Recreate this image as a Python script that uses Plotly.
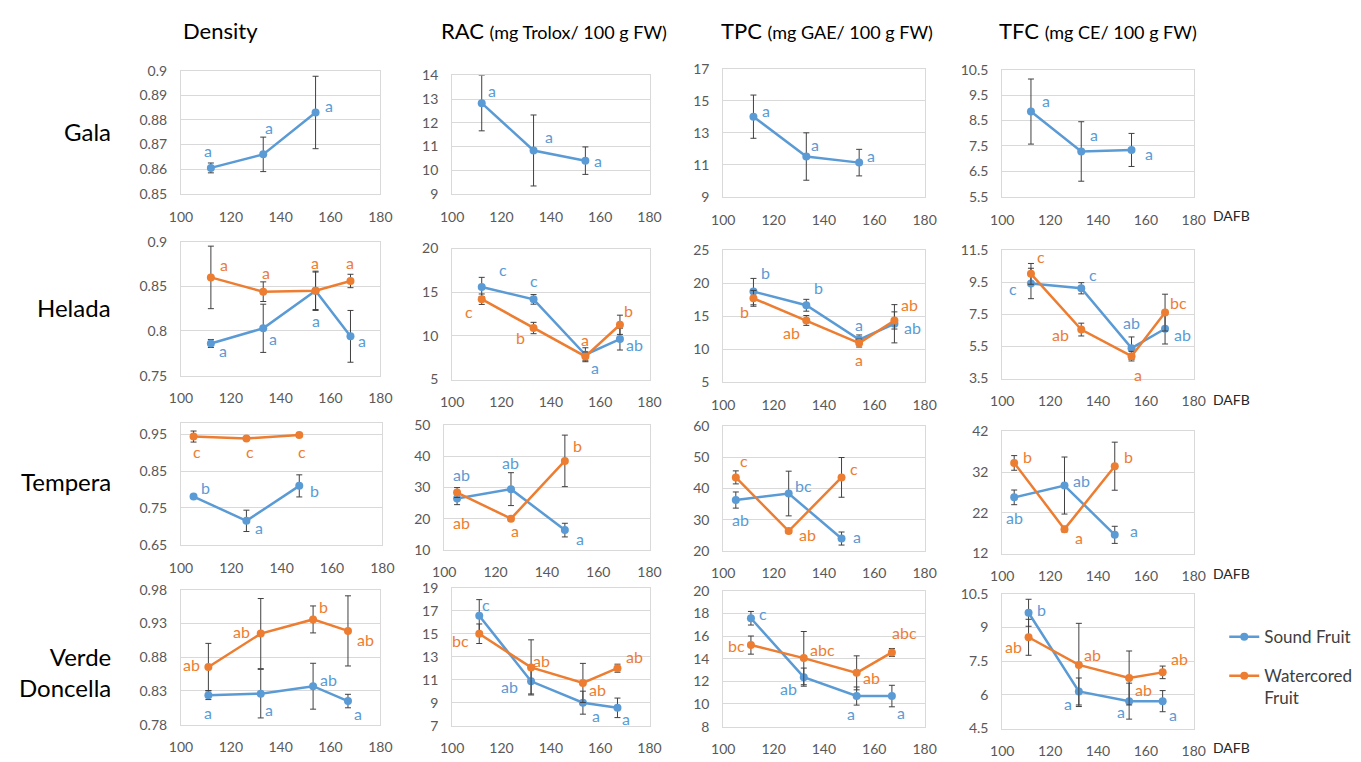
import plotly.graph_objects as go

W, H = 1361, 762
BLUE = "#5B9BD5"
ORANGE = "#ED7D31"
FONT = "Lato"

# ---------------- data ----------------
varieties = ["Gala", "Helada", "Tempera", "Verde<br>Doncella"]
series_names = ["Sound Fruit", "Watercored<br>Fruit"]

gala_days = [112, 133, 154]
helada_days = [112, 133, 154, 168]
tempera_days = [105, 126, 147]
verde_days = [111, 132, 153, 167]

# Gala (sound fruit only)
gala_density_sound = [0.8605, 0.866, 0.883]
gala_density_sound_err = [0.002, 0.007, 0.0147]
gala_density_sound_lab = ["a", "a", "a"]
gala_rac_sound = [12.83, 10.83, 10.40]
gala_rac_sound_err = [1.17, 1.5, 0.58]
gala_rac_sound_lab = ["a", "a", "a"]
gala_tpc_sound = [14.0, 11.51, 11.13]
gala_tpc_sound_err = [1.35, 1.48, 0.83]
gala_tpc_sound_lab = ["a", "a", "a"]
gala_tfc_sound = [8.85, 7.28, 7.34]
gala_tfc_sound_err = [1.28, 1.17, 0.65]
gala_tfc_sound_lab = ["a", "a", "a"]

# Helada
helada_density_sound = [0.786, 0.803, 0.845, 0.794]
helada_density_sound_err = [0.0045, 0.027, 0.022, 0.029]
helada_density_sound_lab = ["a", "a", "a", "a"]
helada_density_water = [0.860, 0.844, 0.845, 0.856]
helada_density_water_err = [0.035, 0.011, 0.021, 0.0075]
helada_density_water_lab = ["a", "a", "a", "a"]
helada_rac_sound = [15.6, 14.18, 7.84, 9.63]
helada_rac_sound_err = [1.1, 0.55, 0.8, 1.25]
helada_rac_sound_lab = ["c", "c", "a", "ab"]
helada_rac_water = [14.2, 10.9, 7.65, 11.27]
helada_rac_water_err = [0.6, 0.65, 0.5, 1.1]
helada_rac_water_lab = ["c", "b", "a", "b"]
helada_tpc_sound = [18.77, 16.7, 11.5, 13.9]
helada_tpc_sound_err = [2.0, 0.9, 0.7, 2.9]
helada_tpc_sound_lab = ["b", "b", "a", "ab"]
helada_tpc_water = [17.75, 14.4, 10.97, 14.4]
helada_tpc_water_err = [1.2, 0.75, 0.6, 1.3]
helada_tpc_water_lab = ["b", "ab", "a", "ab"]
helada_tfc_sound = [9.44, 9.14, 5.4, 6.61]
helada_tfc_sound_err = [0.95, 0.35, 0.7, 0.95]
helada_tfc_sound_lab = ["c", "c", "ab", "ab"]
helada_tfc_water = [10.04, 6.56, 4.9, 7.62]
helada_tfc_water_err = [0.65, 0.4, 0.3, 1.15]
helada_tfc_water_lab = ["c", "ab", "a", "bc"]

# Tempera
tempera_density_sound = [0.781, 0.715, 0.81]
tempera_density_sound_err = [0.005, 0.029, 0.03]
tempera_density_sound_lab = ["b", "a", "b"]
tempera_density_water = [0.944, 0.939, 0.948]
tempera_density_water_err = [0.015, 0.005, 0.005]
tempera_density_water_lab = ["c", "c", "c"]
tempera_rac_sound = [26.5, 29.5, 16.3]
tempera_rac_sound_err = [2.0, 5.3, 2.2]
tempera_rac_sound_lab = ["ab", "ab", "a"]
tempera_rac_water = [28.4, 20.0, 38.6]
tempera_rac_water_err = [1.6, 0.5, 8.3]
tempera_rac_water_lab = ["ab", "a", "b"]
tempera_tpc_sound = [36.3, 38.4, 23.9]
tempera_tpc_sound_err = [2.6, 7.2, 2.1]
tempera_tpc_sound_lab = ["ab", "bc", "a"]
tempera_tpc_water = [43.6, 26.3, 43.6]
tempera_tpc_water_err = [2.1, 0.7, 6.4]
tempera_tpc_water_lab = ["c", "ab", "c"]
tempera_tfc_sound = [25.8, 28.7, 16.6]
tempera_tfc_sound_err = [1.8, 7.0, 2.1]
tempera_tfc_sound_lab = ["ab", "ab", "a"]
tempera_tfc_water = [34.25, 18.0, 33.45]
tempera_tfc_water_err = [1.8, 0.7, 5.9]
tempera_tfc_water_lab = ["b", "a", "b"]

# Verde Doncella
verde_density_sound = [0.8237, 0.826, 0.837, 0.815]
verde_density_sound_err = [0.0065, 0.036, 0.034, 0.01]
verde_density_sound_lab = ["a", "a", "ab", "a"]
verde_density_water = [0.8655, 0.915, 0.936, 0.919]
verde_density_water_err = [0.035, 0.052, 0.02, 0.052]
verde_density_water_lab = ["ab", "ab", "b", "ab"]
verde_rac_sound = [16.57, 10.86, 9.0, 8.55]
verde_rac_sound_err = [1.4, 1.1, 1.0, 0.85]
verde_rac_sound_lab = ["c", "ab", "a", "a"]
verde_rac_water = [15.0, 12.07, 10.72, 12.0]
verde_rac_water_err = [0.85, 2.4, 1.7, 0.35]
verde_rac_water_lab = ["bc", "ab", "ab", "ab"]
verde_tpc_sound = [17.57, 12.37, 10.7, 10.7]
verde_tpc_sound_err = [0.6, 0.8, 0.8, 0.95]
verde_tpc_sound_lab = ["c", "ab", "a", "a"]
verde_tpc_water = [15.2, 14.05, 12.75, 14.55]
verde_tpc_water_err = [0.8, 2.35, 1.5, 0.35]
verde_tpc_water_lab = ["bc", "abc", "ab", "abc"]
verde_tfc_sound = [9.65, 6.15, 5.72, 5.72]
verde_tfc_sound_err = [0.6, 0.6, 0.8, 0.47]
verde_tfc_sound_lab = ["b", "a", "a", "a"]
verde_tfc_water = [8.56, 7.33, 6.75, 7.0]
verde_tfc_water_err = [0.8, 1.85, 1.2, 0.28]
verde_tfc_water_lab = ["ab", "ab", "ab", "ab"]

x_ticks = [100, 120, 140, 160, 180]

# ---------------- layout / style (positions in px) ----------------
# panel boxes: x0, x1, y0(top), y1(bottom)
boxes = [
    (172, 375, 63, 189), (448, 649, 68, 189), (724, 929, 61, 192), (1008, 1203, 62, 192),
    (172, 375, 238, 375), (448, 649, 245, 379), (724, 929, 247, 382), (1008, 1203, 247, 378),
    (172, 377, 423, 548), (440, 649, 426, 553), (724, 929, 427, 554), (1008, 1203, 432, 557),
    (172, 375, 594, 732), (448, 649, 592, 733), (724, 929, 595, 734), (1008, 1203, 598, 736),
]
yaxes_cfg = [
    ([0.85, 0.9], [0.85, 0.86, 0.87, 0.88, 0.89, 0.9]),
    ([9, 14], [9, 10, 11, 12, 13, 14]),
    ([9, 17], [9, 11, 13, 15, 17]),
    ([5.5, 10.5], [5.5, 6.5, 7.5, 8.5, 9.5, 10.5]),
    ([0.75, 0.9], [0.75, 0.8, 0.85, 0.9]),
    ([5, 20], [5, 10, 15, 20]),
    ([5, 25], [5, 10, 15, 20, 25]),
    ([3.5, 11.5], [3.5, 5.5, 7.5, 9.5, 11.5]),
    ([0.65, 0.982], [0.65, 0.75, 0.85, 0.95]),
    ([10, 50], [10, 20, 30, 40, 50]),
    ([20, 60], [20, 30, 40, 50, 60]),
    ([12, 42], [12, 22, 32, 42]),
    ([0.78, 0.98], [0.78, 0.83, 0.88, 0.93, 0.98]),
    ([7, 19], [7, 9, 11, 13, 15, 17, 19]),
    ([8, 20], [8, 10, 12, 14, 16, 18, 20]),
    ([4.5, 10.5], [4.5, 6, 7.5, 9, 10.5]),
]

# label offsets (px right, px up) per panel: [sound offsets, water offsets]
offsets = [
    [[(-3, 17), (6, 27), (13, 7)], None],
    [[(10, 13), (15, 14), (13, 0)], None],
    [[(13, 6), (9, 12), (12, 7)], None],
    [[(15, 11), (13, 17), (17, -4)], None],
    [[(12, -7), (10, -10), (0, -30), (12, -4)], [(13, 13), (3, 19), (-1, 28), (0, 18)]],
    [[(21, 17), (0, 19), (10, -13), (15, -5)], [(-13, -12), (-13, -9), (0, 17), (9, 14)]],
    [[(12, 19), (12, 18), (0, 15), (18, -4)], [(-9, -13), (-15, -12), (0, -16), (15, 16)]],
    [[(-18, -5), (12, 14), (0, 26), (17, -6)], [(10, 17), (-21, -5), (6, -18), (13, 10)]],
    [[(12, 9), (13, -7), (15, -5)], [(3, -15), (4, -13), (3, -16)]],
    [[(4, 24), (0, 27), (15, -8)], [(4, -30), (4, -12), (13, 15)]],
    [[(5, -19), (15, 8), (15, 2)], [(8, 17), (19, -3), (12, 9)]],
    [[(0, -20), (17, 5), (19, 4)], [(13, 6), (15, -8), (14, 10)]],
    [[(0, -17), (8, -16), (15, 7), (10, -12)], [(-17, 2), (-19, 2), (10, 13), (18, -9)]],
    [[(7, 11), (-22, -5), (13, -13), (9, -11)], [(-19, -7), (10, 7), (15, -7), (17, 12)]],
    [[(12, 5), (-15, -11), (-6, -17), (9, -16)], [(-14, 0), (19, 9), (15, -5), (13, 20)]],
    [[(13, 3), (-11, -12), (-8, -10), (10, -13)], [(-15, -9), (14, 10), (14, -12), (17, 14)]],
]

panels = [
    (gala_days, (gala_density_sound, gala_density_sound_err, gala_density_sound_lab), None),
    (gala_days, (gala_rac_sound, gala_rac_sound_err, gala_rac_sound_lab), None),
    (gala_days, (gala_tpc_sound, gala_tpc_sound_err, gala_tpc_sound_lab), None),
    (gala_days, (gala_tfc_sound, gala_tfc_sound_err, gala_tfc_sound_lab), None),
    (helada_days, (helada_density_sound, helada_density_sound_err, helada_density_sound_lab),
     (helada_density_water, helada_density_water_err, helada_density_water_lab)),
    (helada_days, (helada_rac_sound, helada_rac_sound_err, helada_rac_sound_lab),
     (helada_rac_water, helada_rac_water_err, helada_rac_water_lab)),
    (helada_days, (helada_tpc_sound, helada_tpc_sound_err, helada_tpc_sound_lab),
     (helada_tpc_water, helada_tpc_water_err, helada_tpc_water_lab)),
    (helada_days, (helada_tfc_sound, helada_tfc_sound_err, helada_tfc_sound_lab),
     (helada_tfc_water, helada_tfc_water_err, helada_tfc_water_lab)),
    (tempera_days, (tempera_density_sound, tempera_density_sound_err, tempera_density_sound_lab),
     (tempera_density_water, tempera_density_water_err, tempera_density_water_lab)),
    (tempera_days, (tempera_rac_sound, tempera_rac_sound_err, tempera_rac_sound_lab),
     (tempera_rac_water, tempera_rac_water_err, tempera_rac_water_lab)),
    (tempera_days, (tempera_tpc_sound, tempera_tpc_sound_err, tempera_tpc_sound_lab),
     (tempera_tpc_water, tempera_tpc_water_err, tempera_tpc_water_lab)),
    (tempera_days, (tempera_tfc_sound, tempera_tfc_sound_err, tempera_tfc_sound_lab),
     (tempera_tfc_water, tempera_tfc_water_err, tempera_tfc_water_lab)),
    (verde_days, (verde_density_sound, verde_density_sound_err, verde_density_sound_lab),
     (verde_density_water, verde_density_water_err, verde_density_water_lab)),
    (verde_days, (verde_rac_sound, verde_rac_sound_err, verde_rac_sound_lab),
     (verde_rac_water, verde_rac_water_err, verde_rac_water_lab)),
    (verde_days, (verde_tpc_sound, verde_tpc_sound_err, verde_tpc_sound_lab),
     (verde_tpc_water, verde_tpc_water_err, verde_tpc_water_lab)),
    (verde_days, (verde_tfc_sound, verde_tfc_sound_err, verde_tfc_sound_lab),
     (verde_tfc_water, verde_tfc_water_err, verde_tfc_water_lab)),
]

fig = go.Figure()
layout_axes = {}
legend_panel = 4  # panel whose traces feed the legend

for i, (days, sound, water) in enumerate(panels):
    n = i + 1
    xa = "x" if n == 1 else f"x{n}"
    ya = "y" if n == 1 else f"y{n}"
    x0, x1, y0, y1 = boxes[i]
    yr, yt = yaxes_cfg[i]
    axis_common = dict(showline=True, mirror=True, linecolor="#D9D9D9", linewidth=1,
                       zeroline=False, ticks="outside", tickcolor="rgba(0,0,0,0)", ticklen=10,
                       tickfont=dict(family=FONT, size=14, color="#595959"), fixedrange=True)
    layout_axes["xaxis" if n == 1 else f"xaxis{n}"] = dict(
        domain=[x0 / W, x1 / W], range=[100, 180], tickvals=x_ticks, showgrid=False,
        anchor=ya, **axis_common)
    layout_axes["yaxis" if n == 1 else f"yaxis{n}"] = dict(
        domain=[1 - y1 / H, 1 - y0 / H], range=yr, tickvals=yt, showgrid=True,
        gridcolor="#D9D9D9", gridwidth=1, anchor=xa, **axis_common)

    for k, (s, color) in enumerate([(sound, BLUE), (water, ORANGE)]):
        if s is None:
            continue
        vals, errs, labs = s
        fig.add_trace(go.Scatter(
            x=days, y=vals, xaxis=xa, yaxis=ya, mode="lines+markers",
            name=series_names[k], legendgroup=series_names[k],
            showlegend=(i == legend_panel),
            line=dict(color=color, width=2.5),
            marker=dict(color=color, size=8, symbol="circle"),
            error_y=dict(type="data", array=errs, visible=True, color="#404040",
                         thickness=1, width=3),
            cliponaxis=False,
        ))
        for xv, yv, lab, (dx, dy) in zip(days, vals, labs, offsets[i][k]):
            fig.add_annotation(x=xv, y=yv, xref=xa, yref=ya, text=lab, showarrow=False,
                               xshift=dx, yshift=dy, xanchor="center", yanchor="middle",
                               font=dict(family=FONT, size=16, color=color))

# column headers
headers = [
    ("Density", 212),
    ("RAC <span style='font-size:18px'>(mg Trolox/ 100 g FW)</span>", 552),
    ("TPC <span style='font-size:18px'>(mg GAE/ 100 g FW)</span>", 830),
    ("TFC <span style='font-size:18px'>(mg CE/ 100 g FW)</span>", 1106),
]
for txt, xc in headers:
    fig.add_annotation(x=xc / W, y=1 - 22 / H, xref="paper", yref="paper", text=txt,
                       showarrow=False, xanchor="center", yanchor="middle",
                       font=dict(family=FONT, size=22, color="#000000"))

# row labels
row_label_y = [125, 305, 483, 678]
for txt, yc in zip(varieties, row_label_y):
    fig.add_annotation(x=103 / W, y=1 - yc / H, xref="paper", yref="paper", text=txt,
                       showarrow=False, xanchor="right", yanchor="middle", align="right",
                       font=dict(family=FONT, size=24, color="#000000"))

# DAFB labels
for yc in [211, 399, 577, 755]:
    fig.add_annotation(x=1241 / W, y=1 - yc / H, xref="paper", yref="paper", text="DAFB",
                       showarrow=False, xanchor="center", yanchor="middle",
                       font=dict(family=FONT, size=14, color="#262626"))

fig.update_layout(
    width=W, height=H, margin=dict(l=0, r=0, t=0, b=0),
    paper_bgcolor="white", plot_bgcolor="white",
    showlegend=True,
    legend=dict(x=1234 / W, y=1 - 624 / H, xanchor="left", yanchor="top",
                font=dict(family=FONT, size=17, color="#404040"),
                tracegroupgap=14, bgcolor="rgba(0,0,0,0)", valign="top",
                itemwidth=30, traceorder="grouped"),
    **layout_axes,
)

fig.write_html("out.html", config={"displayModeBar": False})
